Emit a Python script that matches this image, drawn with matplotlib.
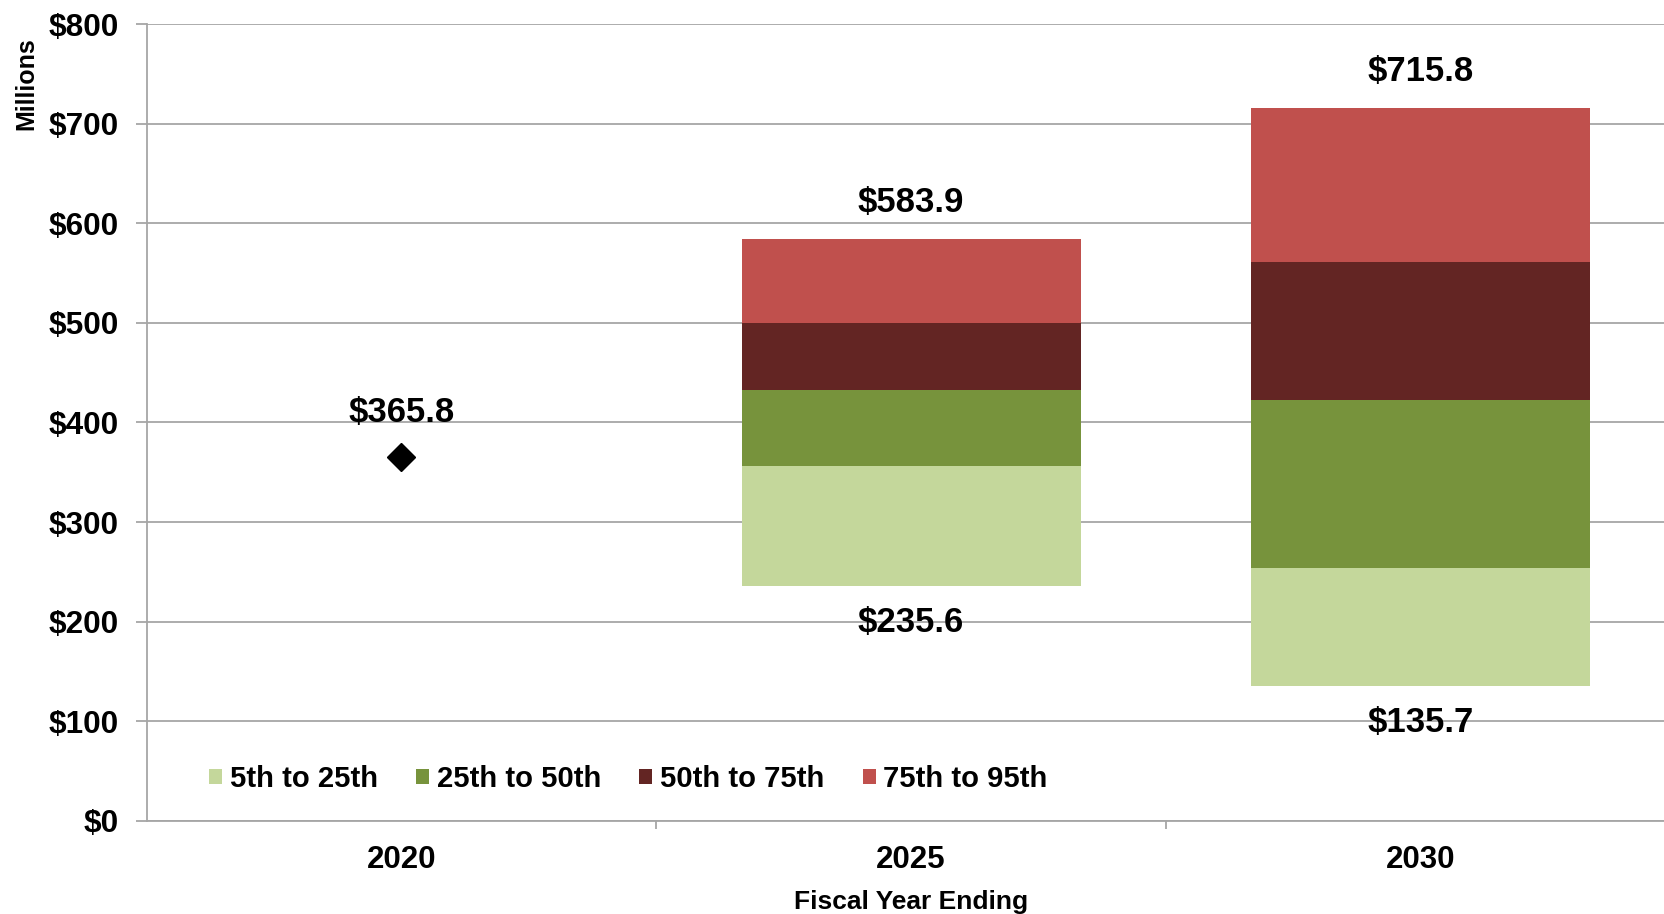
import matplotlib
matplotlib.use("Agg")
import matplotlib.pyplot as plt
from matplotlib.patches import Patch
import numpy as np

plt.rcParams['font.family'] = ['Liberation Sans', 'DejaVu Sans']
plt.rcParams['font.weight'] = 'bold'

# ---- data ----
years = ["2020", "2025", "2030"]
series_names = ["5th to 25th", "25th to 50th", "50th to 75th", "75th to 95th"]
colors = ["#C4D79B", "#77933C", "#632523", "#C0504D"]
# percentile boundaries (5th, 25th, 50th, 75th, 95th) for the projected years
bounds_2025 = [235.6, 356.2, 432.3, 499.7, 583.9]
bounds_2030 = [135.7, 254.3, 422.3, 561.2, 715.8]
actual_2020 = 365.8
y_ticks = [0, 100, 200, 300, 400, 500, 600, 700, 800]
y_tick_labels = ["$0", "$100", "$200", "$300", "$400", "$500", "$600", "$700", "$800"]

W, H = 1665, 914
fig = plt.figure(figsize=(W / 100, H / 100), dpi=100)
ax = fig.add_axes([0.0880, 0.1022, 0.9184, 0.8711])

x = np.arange(len(years))
bar_w = 0.665
proj = {1: bounds_2025, 2: bounds_2030}
for i, name in enumerate(series_names):
    xs, heights, bottoms = [], [], []
    for xi, b in proj.items():
        xs.append(xi)
        bottoms.append(b[i])
        heights.append(b[i + 1] - b[i])
    ax.bar(xs, heights, bottom=bottoms, width=bar_w, color=colors[i],
           edgecolor='none', zorder=3, label=name)

# 2020 actual marker
ax.plot([0], [actual_2020], marker='D', color='black', markersize=14,
        linestyle='none', zorder=4)

lab_fs = 25
ax.annotate(f"${actual_2020:.1f}", (0, actual_2020), xytext=(0, 32),
            textcoords='offset points', ha='center', va='center',
            fontsize=lab_fs, fontweight='bold')
for xi, b in proj.items():
    ax.annotate(f"${b[-1]:.1f}", (xi, b[-1]), xytext=(0, 26.5),
                textcoords='offset points', ha='center', va='center',
                fontsize=lab_fs, fontweight='bold')
    ax.annotate(f"${b[0]:.1f}", (xi, b[0]), xytext=(0, -26.5),
                textcoords='offset points', ha='center', va='center',
                fontsize=lab_fs, fontweight='bold')

# axes
ax.set_xlim(-0.5, 2.5)
ax.set_ylim(0, 800)
ax.set_yticks(y_ticks)
ax.set_yticklabels(y_tick_labels)
ax.set_xticks(x)
ax.set_xticklabels(years)
ax.set_xticks([0.5, 1.5], minor=True)

grid_c = "#A6A6A6"
ax.yaxis.grid(True, color=grid_c, linewidth=1.3, zorder=0)
ax.set_axisbelow(True)
for s in ["top", "right"]:
    ax.spines[s].set_visible(False)
for s in ["left", "bottom"]:
    ax.spines[s].set_color(grid_c)
    ax.spines[s].set_linewidth(1.3)

ax.tick_params(axis='y', which='major', length=7.7, width=1.3, color=grid_c,
               direction='out', pad=12.2, labelsize=22.7)
ax.tick_params(axis='x', which='major', length=0, pad=17.5, labelsize=22.5)
ax.tick_params(axis='x', which='minor', length=6, width=1.3, color=grid_c,
               direction='out')
for lbl in ax.get_xticklabels() + ax.get_yticklabels():
    lbl.set_fontweight('bold')

ax.set_ylabel("Millions", fontsize=18, fontweight='bold')
ax.yaxis.set_label_coords(-0.071, 0.925)
ax.set_xlabel("Fiscal Year Ending", fontsize=19, fontweight='bold')
ax.xaxis.set_label_coords(0.5, -0.087)

handles = [Patch(facecolor=c, edgecolor='none') for c in colors]
leg = ax.legend(handles, series_names, loc='center left',
                bbox_to_anchor=(209 / W, 1 - 779 / H), bbox_transform=fig.transFigure,
                ncol=4, frameon=False, fontsize=21.1, handlelength=0.45,
                handleheight=0.45, handletextpad=0.26, columnspacing=1.3,
                borderpad=0, borderaxespad=0)
for t in leg.get_texts():
    t.set_fontweight('bold')

fig.savefig("out.png", dpi=100, facecolor='white')
